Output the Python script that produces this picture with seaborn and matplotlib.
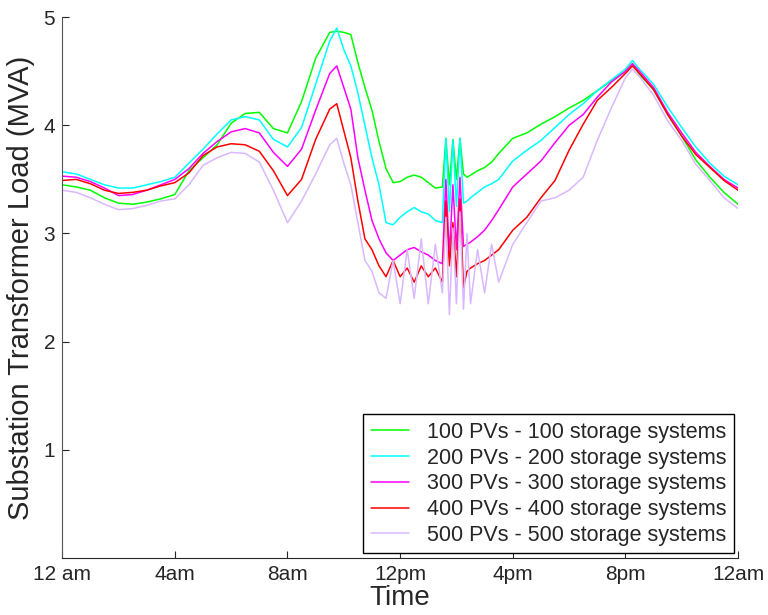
import pandas as pd
import matplotlib
matplotlib.use("Agg")
import matplotlib.pyplot as plt
import seaborn as sns

# ==========================================
# Data
# ==========================================

hours = [0, 0.5, 1, 1.5, 2, 2.5, 3, 3.5, 4, 4.5, 5, 5.5, 6, 6.5, 7, 7.5, 8, 8.5, 9, 9.5,
         9.75, 10, 10.25, 10.5, 10.75, 11, 11.25, 11.5, 11.75, 12, 12.25, 12.5, 12.75, 13, 13.25, 13.5,
         13.625, 13.75, 13.875, 14, 14.125, 14.25, 14.375, 14.5,
         14.75, 15, 15.25, 15.5,
         16, 16.5, 17, 17.5, 18, 18.5, 19, 19.5, 20, 20.25, 20.5, 21, 21.5, 22, 22.5, 23, 23.5, 24]

load_100 = [3.45, 3.43, 3.40, 3.33, 3.28, 3.27, 3.29, 3.32, 3.36, 3.58, 3.70, 3.82, 4.02, 4.11, 4.12, 3.97, 3.93, 4.22, 4.62, 4.86,
            4.87, 4.86, 4.84, 4.58, 4.35, 4.14, 3.85, 3.60, 3.47, 3.48, 3.52, 3.54, 3.52, 3.47, 3.42, 3.43,
            3.88, 3.45, 3.87, 3.50, 3.88, 3.55, 3.52, 3.54,
            3.58, 3.61, 3.66, 3.74,
            3.88, 3.93, 4.01, 4.08, 4.16, 4.23, 4.32, 4.41, 4.50, 4.57, 4.47, 4.33, 4.10, 3.90, 3.68, 3.52, 3.38, 3.27]

load_200 = [3.57, 3.55, 3.50, 3.45, 3.42, 3.42, 3.45, 3.48, 3.52, 3.65, 3.78, 3.92, 4.05, 4.08, 4.05, 3.87, 3.80, 3.98, 4.38, 4.78,
            4.90, 4.70, 4.55, 4.30, 4.00, 3.70, 3.45, 3.10, 3.08, 3.15, 3.20, 3.24, 3.20, 3.18, 3.12, 3.10,
            3.88, 3.20, 3.86, 3.25, 3.88, 3.28, 3.30, 3.33,
            3.38, 3.43, 3.46, 3.50,
            3.67, 3.77, 3.86, 3.98, 4.10, 4.20, 4.32, 4.42, 4.52, 4.60, 4.52, 4.38, 4.17, 3.98, 3.80, 3.65, 3.53, 3.45]

load_300 = [3.53, 3.52, 3.48, 3.42, 3.35, 3.36, 3.40, 3.45, 3.50, 3.60, 3.74, 3.85, 3.94, 3.97, 3.93, 3.75, 3.62, 3.78, 4.14, 4.48,
            4.55, 4.35, 4.15, 3.70, 3.40, 3.12, 2.95, 2.82, 2.75, 2.80, 2.85, 2.87, 2.83, 2.80, 2.75, 2.72,
            3.50, 2.80, 3.45, 2.85, 3.52, 2.88, 2.90, 2.92,
            2.97, 3.03, 3.12, 3.22,
            3.43, 3.55, 3.67, 3.84, 4.00, 4.10, 4.26, 4.40, 4.50, 4.57, 4.50, 4.35, 4.12, 3.93, 3.75, 3.62, 3.50, 3.42]

load_400 = [3.49, 3.50, 3.46, 3.40, 3.37, 3.38, 3.40, 3.44, 3.47, 3.56, 3.72, 3.80, 3.83, 3.82, 3.76, 3.58, 3.35, 3.50, 3.87, 4.15,
            4.20, 3.95, 3.70, 3.30, 2.95, 2.85, 2.70, 2.60, 2.75, 2.60, 2.68, 2.55, 2.70, 2.60, 2.68, 2.55,
            3.30, 2.70, 3.10, 2.60, 3.32, 2.50, 2.65, 2.68,
            2.72, 2.75, 2.80, 2.85,
            3.03, 3.15, 3.33, 3.49, 3.77, 4.01, 4.23, 4.35, 4.48, 4.55, 4.48, 4.33, 4.10, 3.90, 3.73, 3.61, 3.49, 3.40]

load_500 = [3.40, 3.38, 3.33, 3.27, 3.22, 3.23, 3.26, 3.30, 3.32, 3.45, 3.63, 3.70, 3.75, 3.74, 3.66, 3.40, 3.10, 3.30, 3.55, 3.82,
            3.88, 3.65, 3.45, 3.10, 2.75, 2.65, 2.45, 2.40, 2.75, 2.35, 2.85, 2.40, 2.95, 2.35, 2.90, 2.45,
            3.15, 2.25, 3.05, 2.35, 3.20, 2.30, 3.00, 2.35,
            2.85, 2.45, 2.90, 2.55,
            2.90, 3.10, 3.30, 3.33, 3.40, 3.52, 3.86, 4.16, 4.44, 4.52, 4.45, 4.28, 4.04, 3.86, 3.64, 3.49, 3.33, 3.23]

scenarios = [
    "100 PVs - 100 storage systems",
    "200 PVs - 200 storage systems",
    "300 PVs - 300 storage systems",
    "400 PVs - 400 storage systems",
    "500 PVs - 500 storage systems",
]

tick_hours = [0, 4, 8, 12, 16, 20, 24]
tick_labels = ["12 am", "4am", "8am", "12pm", "4pm", "8pm", "12am"]

colors = ["#00FF00", "#00FFFF", "#FF00FF", "#FF0000", "#D9B8FF"]

# ==========================================
# Long-form table
# ==========================================

frames = []
for name, vals in zip(scenarios, [load_100, load_200, load_300, load_400, load_500]):
    frames.append(pd.DataFrame({"hour": hours, "load": vals, "scenario": name}))
df = pd.concat(frames, ignore_index=True)

# ==========================================
# Plot
# ==========================================

sns.set_style("ticks")
plt.rcParams["font.family"] = ["Liberation Sans", "DejaVu Sans"]
plt.rcParams["xtick.direction"] = "in"
plt.rcParams["ytick.direction"] = "in"

fig = plt.figure(figsize=(7.68, 6.15), dpi=100)
ax = fig.add_axes([0.081, 0.093, 0.88, 0.879])

sns.lineplot(
    data=df,
    x="hour",
    y="load",
    hue="scenario",
    hue_order=scenarios,
    palette=colors,
    linewidth=1.1,
    ax=ax,
)

ax.set_xlim(0, 24)
ax.set_ylim(0, 5)
ax.set_xticks(tick_hours)
ax.set_xticklabels(tick_labels)
ax.set_yticks([1, 2, 3, 4, 5])
ax.tick_params(labelsize=15, length=5, width=0.8, pad=5)
ax.set_xlabel("Time", fontsize=20, labelpad=1)
ax.set_ylabel("Substation Transformer Load (MVA)", fontsize=21, labelpad=6)

sns.despine(ax=ax)
ax.spines["left"].set_linewidth(0.8)
ax.spines["bottom"].set_linewidth(0.8)
ax.spines["left"].set_color("#555555")

leg = ax.legend(
    loc="lower right",
    fontsize=15.5,
    frameon=True,
    fancybox=False,
    edgecolor="black",
    framealpha=1,
    borderaxespad=0.2,
    borderpad=0.35,
    handlelength=1.8,
    labelspacing=0.22,
)
leg.get_frame().set_linewidth(1.0)

plt.savefig("out.png", dpi=100)
